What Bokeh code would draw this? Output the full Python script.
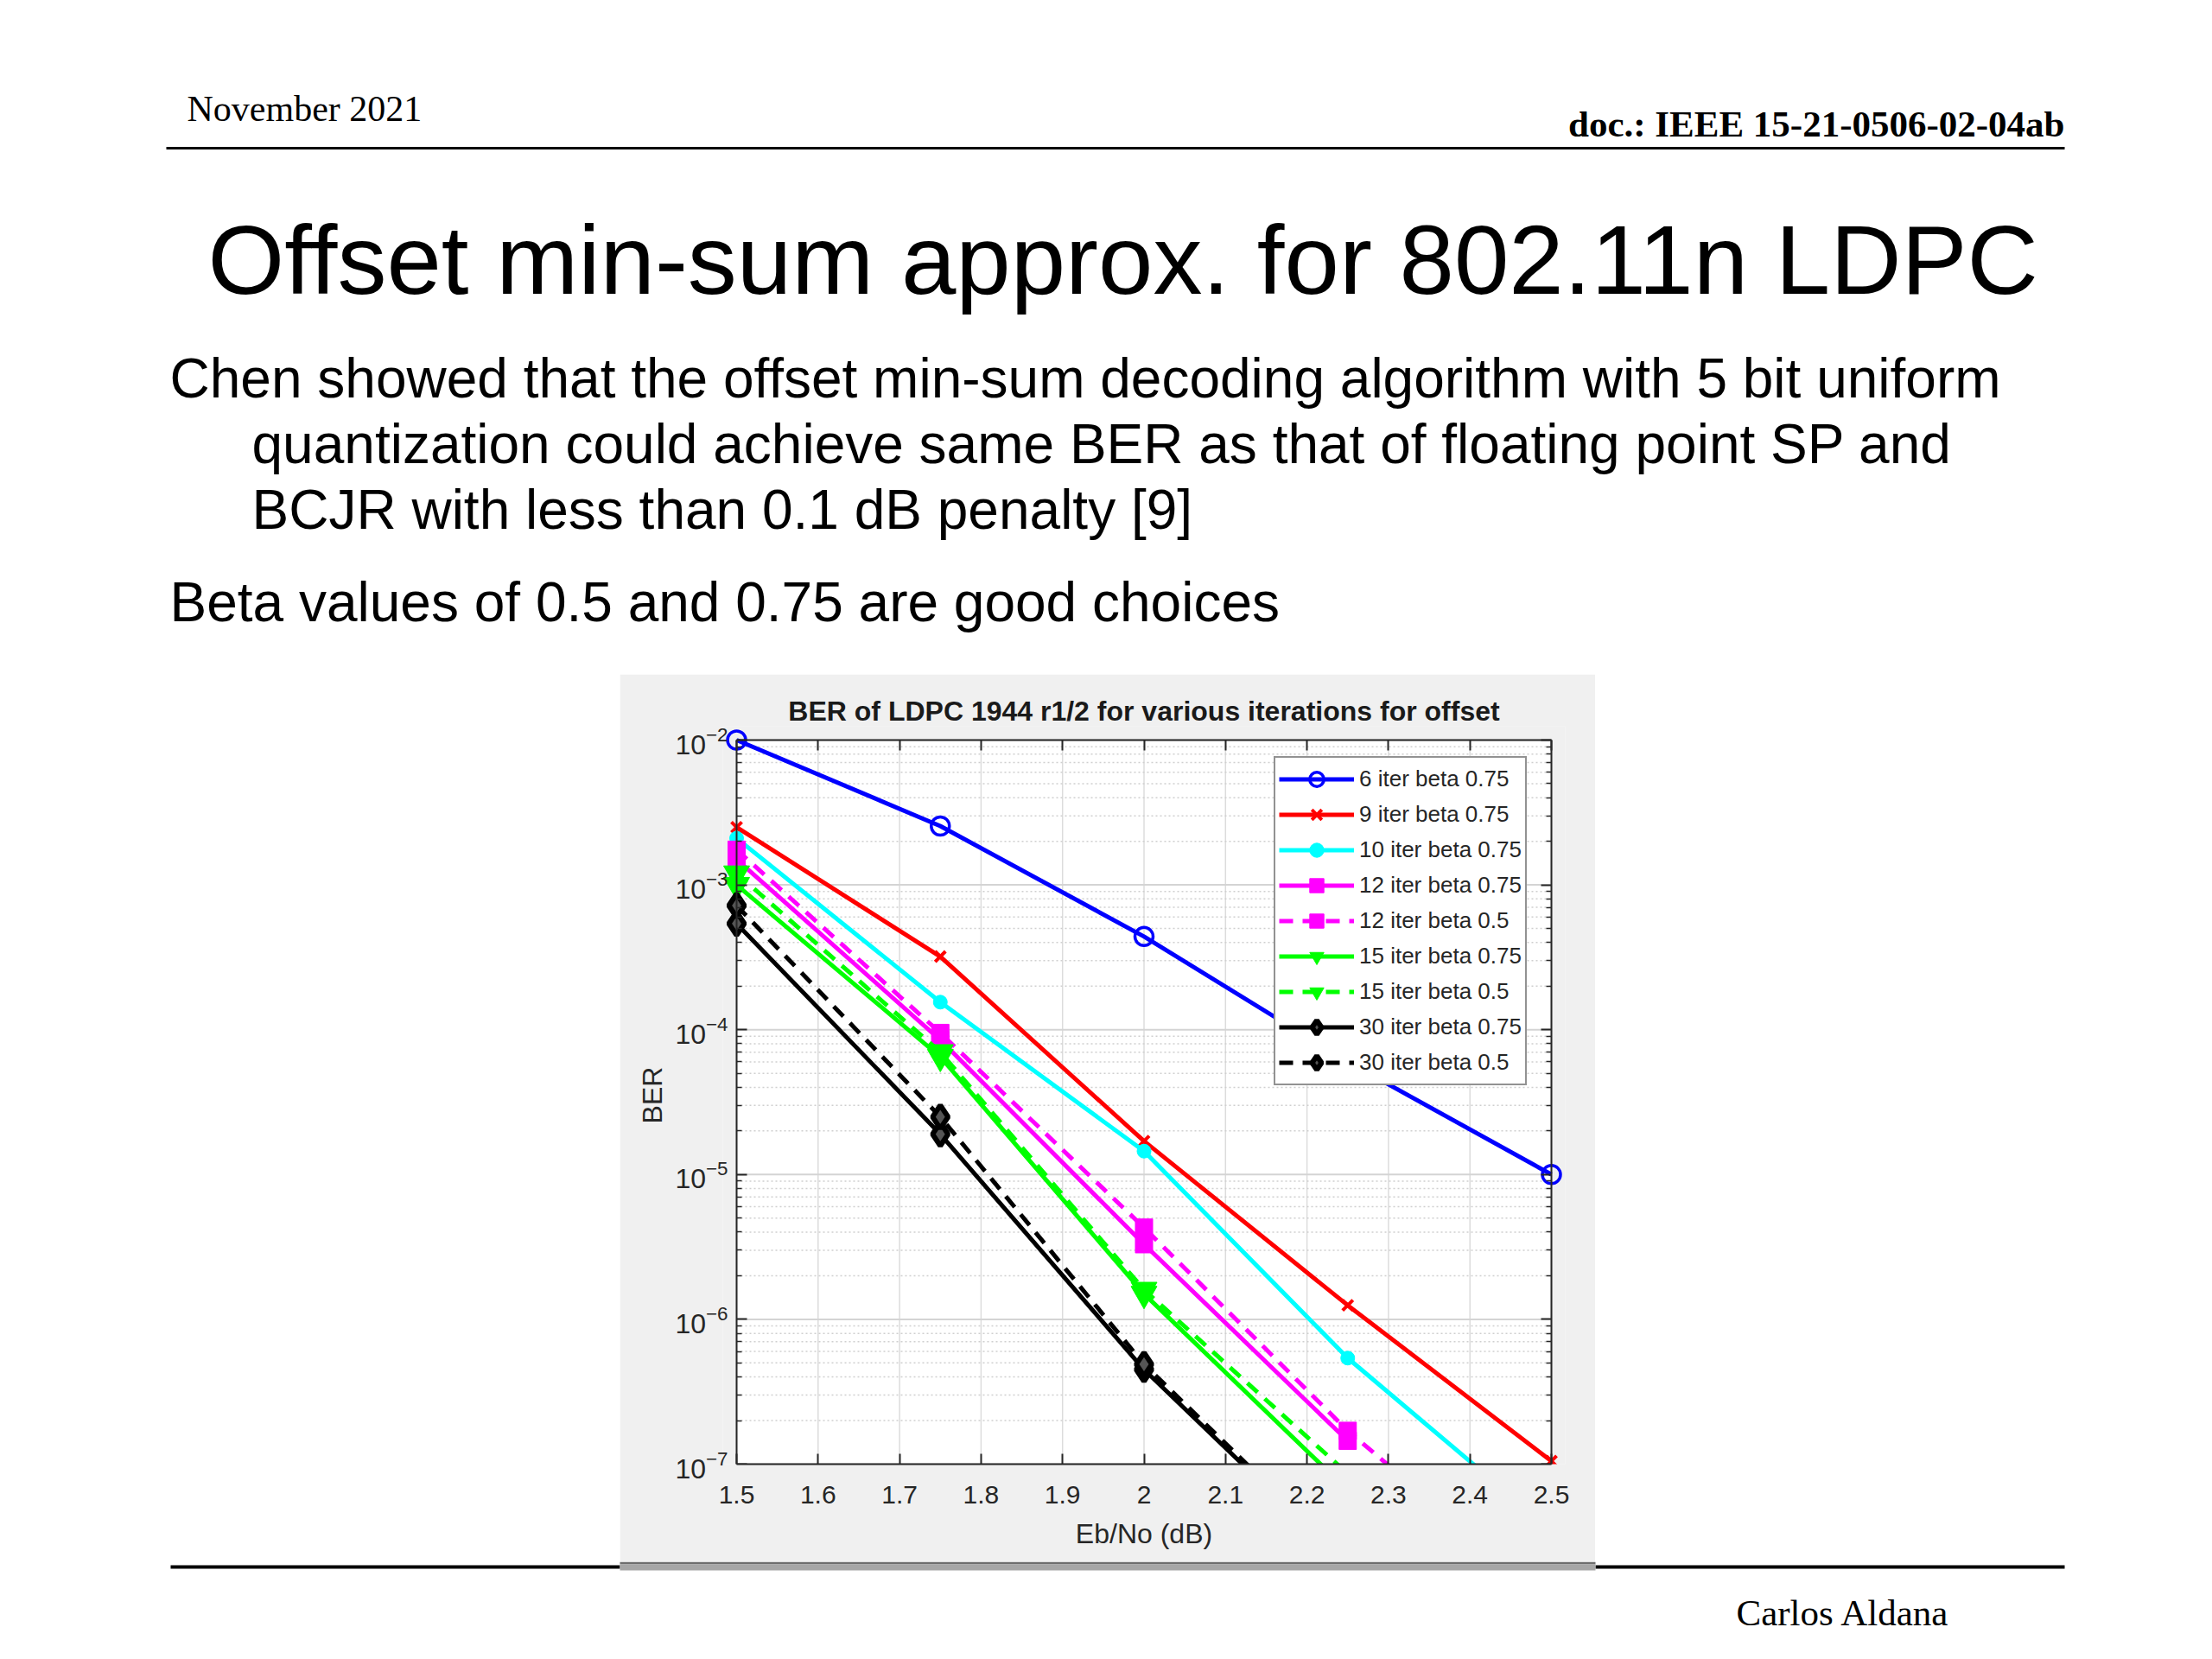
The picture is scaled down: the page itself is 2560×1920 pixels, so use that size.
from bokeh.plotting import figure
from bokeh.layouts import column, row
from bokeh.models import (Range1d, FixedTicker, LogAxis, LinearAxis, Legend,
                          LegendItem, LogTickFormatter, ColumnDataSource)
from bokeh.embed import file_html
from bokeh.resources import INLINE
from bokeh.core.properties import value

# ---------------- data ----------------
eb_no = [1.5, 1.75, 2.0, 2.25, 2.5]

ber_6_b075 = [1.0e-2, 2.55e-3, 4.4e-4, 6.0e-5, 1.0e-5]
ber_9_b075 = [2.5e-3, 3.2e-4, 1.7e-5, 1.25e-6, 1.05e-7]
ber_10_b075 = [2.1e-3, 1.55e-4, 1.45e-5, 5.4e-7, 3.5e-8]
ber_12_b075 = [1.5e-3, 8.5e-5, 3.3e-6, 1.45e-7]
ber_12_b05 = [1.75e-3, 9.5e-5, 4.3e-6, 1.7e-7, 1.1e-8]
ber_15_b075 = [1.0e-3, 6.5e-5, 1.5e-6, 6.6e-8]
ber_15_b05 = [1.2e-3, 7.0e-5, 1.6e-6, 8.6e-8]
ber_30_b075 = [5.4e-4, 1.9e-5, 4.5e-7, 2.0e-8]
ber_30_b05 = [7.2e-4, 2.5e-5, 4.9e-7, 2.1e-8]

series_labels = ["6 iter beta 0.75", "9 iter beta 0.75", "10 iter beta 0.75",
                 "12 iter beta 0.75", "12 iter beta 0.5", "15 iter beta 0.75",
                 "15 iter beta 0.5", "30 iter beta 0.75", "30 iter beta 0.5"]
series_values = [ber_6_b075, ber_9_b075, ber_10_b075, ber_12_b075, ber_12_b05,
                 ber_15_b075, ber_15_b05, ber_30_b075, ber_30_b05]

x_tick_values = [1.5, 1.6, 1.7, 1.8, 1.9, 2.0, 2.1, 2.2, 2.3, 2.4, 2.5]
x_tick_labels = ["1.5", "1.6", "1.7", "1.8", "1.9", "2", "2.1", "2.2", "2.3", "2.4", "2.5"]
y_tick_values = [1e-7, 1e-6, 1e-5, 1e-4, 1e-3, 1e-2]

chart_title = "BER of LDPC 1944 r1/2 for various iterations for offset"
x_label = "Eb/No (dB)"
y_label = "BER"

header_left = "November 2021"
header_right = "doc.: IEEE 15-21-0506-02-04ab"
slide_title = "Offset min-sum approx. for 802.11n LDPC"
body_lines = ["Chen showed that the offset min-sum decoding algorithm with 5 bit uniform",
              "quantization could achieve same BER as that of floating point SP and",
              "BCJR with less than 0.1 dB penalty [9]",
              "Beta values of 0.5 and 0.75 are good choices"]
footer_text = "Carlos Aldana"

# ---------------- styles ----------------
styles = [
    dict(color="#0000ff", dash="solid", marker="circle", size=21, fill=None, mlw=3.5),
    dict(color="#ff0000", dash="solid", marker="x", size=17, fill=None, mlw=4),
    dict(color="#00ffff", dash="solid", marker="circle", size=16, fill="#00ffff", mlw=1),
    dict(color="#ff00ff", dash="solid", marker="square", size=20, fill="#ff00ff", mlw=1),
    dict(color="#ff00ff", dash="16 11", marker="square", size=20, fill="#ff00ff", mlw=1),
    dict(color="#00ff00", dash="solid", marker="inverted_triangle", size=30, fill="#00ff00", mlw=1),
    dict(color="#00ff00", dash="16 11", marker="inverted_triangle", size=30, fill="#00ff00", mlw=1),
    dict(color="#000000", dash="solid", marker="diamond", size=27, fill="#555555", mlw=6),
    dict(color="#000000", dash="16 11", marker="diamond", size=27, fill="#555555", mlw=6),
]

SANS = "Liberation Sans"
SERIF = "Liberation Serif"
AX = "#262626"
BG = "#f0f0f0"

W = 2544


def blank(w, h):
    f = figure(width=w, height=h, x_range=Range1d(0, w), y_range=Range1d(h, 0),
               x_axis_type=None, y_axis_type=None, output_backend="svg",
               toolbar_location=None, min_border=0)
    f.grid.visible = False
    f.outline_line_color = None
    f.background_fill_color = "white"
    f.border_fill_color = "white"
    return f


# ---------------- header ----------------
HEAD_H = 780
head = blank(W, HEAD_H)
head.text(x=[216], y=[125], text=[header_left], text_font=value(SERIF),
          text_font_size="42px", text_baseline="alphabetic", text_align="left", text_color="black")
head.text(x=[2389], y=[143], text=[header_right], text_font=value(SERIF),
          text_font_size="43px", text_font_style="bold", text_baseline="alphabetic",
          text_align="right", text_color="black")
head.segment(x0=[192], y0=[171], x1=[2389], y1=[171], line_color="black", line_width=3)
head.text(x=[240], y=[300], text=[slide_title], text_font=value(SANS),
          text_font_size="114px", text_baseline="alphabetic", text_align="left", text_color="black")
head.text(x=[196, 291, 291, 196], y=[437, 513, 589, 696], text=body_lines,
          text_font=value(SANS), text_font_size="64px", text_baseline="alphabetic",
          text_align="left", text_color="black")

# ---------------- chart ----------------
CH_X, CH_R, CH_B = 717, 1846, 1807
BOX_L, BOX_R, BOX_T, BOX_B = 852, 1795, 856, 1694
PAD = 16  # room so that markers on the left/top/right edges are not cut
px_per_x = (BOX_R - BOX_L) / (x_tick_values[-1] - x_tick_values[0])
px_per_dec = (BOX_B - BOX_T) / 5.0
x_lo, x_hi = x_tick_values[0], x_tick_values[-1]
y_lo, y_hi = y_tick_values[0], y_tick_values[-1]

CH_W, CH_H = CH_R - CH_X, CH_B - HEAD_H
FR_L = BOX_L - PAD
p = figure(width=CH_W, height=CH_H, y_axis_type="log",
           x_range=Range1d(x_lo - PAD / px_per_x, x_hi + PAD / px_per_x),
           y_range=Range1d(y_lo, y_hi * 10 ** (PAD / px_per_dec)),
           output_backend="svg", toolbar_location=None,
           min_border_left=FR_L - CH_X, min_border_right=CH_R - BOX_R - PAD,
           min_border_top=BOX_T - PAD - HEAD_H, min_border_bottom=CH_B - BOX_B,
           title=chart_title)
p.border_fill_color = BG
p.background_fill_color = BG
p.outline_line_color = None
p.grid.visible = False

p.title.text_font = SANS
p.title.text_font_size = "32px"
p.title.text_font_style = "bold"
p.title.text_color = "#1a1a1a"
p.title.align = "center"
p.title.standoff = 0

y_minor = [m * t for t in y_tick_values[:-1] for m in range(2, 10)]

# white axes box and grid
p.quad(left=[x_lo], right=[x_hi], bottom=[y_lo], top=[y_hi], fill_color="white",
       line_color=None, level="image")
p.segment(x0=x_tick_values, x1=x_tick_values, y0=[y_lo] * len(x_tick_values),
          y1=[y_hi] * len(x_tick_values), line_color="#dcdcdc", line_width=1.5, level="underlay")
p.segment(x0=[x_lo] * len(y_minor), x1=[x_hi] * len(y_minor), y0=y_minor, y1=y_minor,
          line_color="#cfcfcf", line_width=1.5, line_dash="2 3", level="underlay")
p.segment(x0=[x_lo] * len(y_tick_values), x1=[x_hi] * len(y_tick_values), y0=y_tick_values,
          y1=y_tick_values, line_color="#d4d4d4", line_width=2, level="underlay")

# bottom axis: regular axis at the lower edge of the box
bx = p.below[0]
bx.ticker = FixedTicker(ticks=x_tick_values)
bx.major_label_overrides = dict(zip(x_tick_values, x_tick_labels))
bx.bounds = (x_lo, x_hi)

# left axis: labels only (regular axis); line and ticks drawn by a fixed axis
ly = p.left[0]
ly.ticker = FixedTicker(ticks=y_tick_values, minor_ticks=y_minor)
ly.formatter = LogTickFormatter()
ly.axis_line_color = None
ly.major_tick_line_color = None
ly.minor_tick_line_color = None

left_line = LogAxis(ticker=FixedTicker(ticks=y_tick_values, minor_ticks=y_minor),
                    major_label_overrides={t: "" for t in y_tick_values},
                    major_label_text_font_size="1px", major_label_standoff=0,
                    fixed_location=x_lo, bounds=(y_lo, y_hi))
top_ax = LinearAxis(ticker=FixedTicker(ticks=x_tick_values),
                    major_label_overrides={t: "" for t in x_tick_values},
                    major_label_text_font_size="1px", major_label_standoff=0,
                    fixed_location=y_hi, bounds=(x_lo, x_hi))
right_ax = LogAxis(ticker=FixedTicker(ticks=y_tick_values, minor_ticks=y_minor),
                   major_label_overrides={t: "" for t in y_tick_values},
                   major_label_text_font_size="1px", major_label_standoff=0,
                   fixed_location=x_hi, bounds=(y_lo, y_hi))
p.add_layout(left_line, "left")
p.add_layout(top_ax, "above")
p.add_layout(right_ax, "right")

for ax in [bx, left_line, top_ax, right_ax]:
    ax.axis_line_color = AX
    ax.axis_line_width = 2
    ax.major_tick_line_color = AX
    ax.major_tick_line_width = 2
    ax.major_tick_in = 12
    ax.major_tick_out = 0
    ax.minor_tick_line_color = AX
    ax.minor_tick_line_width = 1.5
    ax.minor_tick_in = 6
    ax.minor_tick_out = 0
for ax in [bx, top_ax]:
    ax.minor_tick_line_color = None
for ax in [bx, ly]:
    ax.major_label_text_color = AX
    ax.major_label_text_font = SANS
    ax.axis_label_text_font = SANS
    ax.axis_label_text_font_size = "32px"
    ax.axis_label_text_font_style = "normal"
    ax.axis_label_text_color = AX

bx.major_label_text_font_size = "30px"
ly.major_label_text_font_size = "32px"
bx.major_label_standoff = 25
ly.major_label_standoff = -(PAD - 4)
bx.axis_label = x_label
ly.axis_label = y_label
bx.axis_label_standoff = 14
ly.axis_label_standoff = 5

items = []
for lab, vals, st in zip(series_labels, series_values, styles):
    src = ColumnDataSource(data=dict(x=eb_no[:len(vals)], y=vals))
    rl = p.line("x", "y", source=src, line_color=st["color"], line_width=5,
                line_dash=st["dash"])
    rm = p.scatter("x", "y", source=src, marker=st["marker"], size=st["size"],
                   line_color=st["color"], line_width=st["mlw"],
                   fill_color=st["fill"])
    items.append(LegendItem(label=lab, renderers=[rl, rm]))

legend = Legend(items=items, location=(1474 - FR_L, BOX_B - 1256))
legend.label_text_font = SANS
legend.label_text_font_size = "26px"
legend.label_text_color = AX
legend.glyph_width = 87
legend.glyph_height = 41
legend.label_height = 41
legend.spacing = 0
legend.padding = 4
legend.margin = 0
legend.label_standoff = 6
legend.border_line_color = AX
legend.border_line_width = 2
legend.background_fill_color = "white"
legend.background_fill_alpha = 1.0
p.add_layout(legend)

left_pad = blank(CH_X, CH_H)
right_pad = blank(W - CH_R, CH_H)

# ---------------- footer ----------------
FOOT_TOP = CH_B
FOOT_H = 1904 - FOOT_TOP
foot = blank(W, FOOT_H)
foot.segment(x0=[197, CH_R], y0=[6, 6], x1=[CH_X, 2389], y1=[6, 6], line_color="black", line_width=4)
foot.quad(left=[CH_X], right=[CH_R], top=[0], bottom=[3], fill_color="#6e6e6e", line_color=None)
foot.quad(left=[CH_X], right=[CH_R], top=[3], bottom=[10], fill_color="#a6a6a6", line_color=None)
foot.text(x=[2009], y=[1866 - FOOT_TOP], text=[footer_text], text_font=value(SERIF),
          text_font_size="43px", text_baseline="alphabetic", text_align="left", text_color="black")

layout = column(head, row(left_pad, p, right_pad, spacing=0), foot, spacing=0)

open("out.html", "w").write(file_html(layout, INLINE))
